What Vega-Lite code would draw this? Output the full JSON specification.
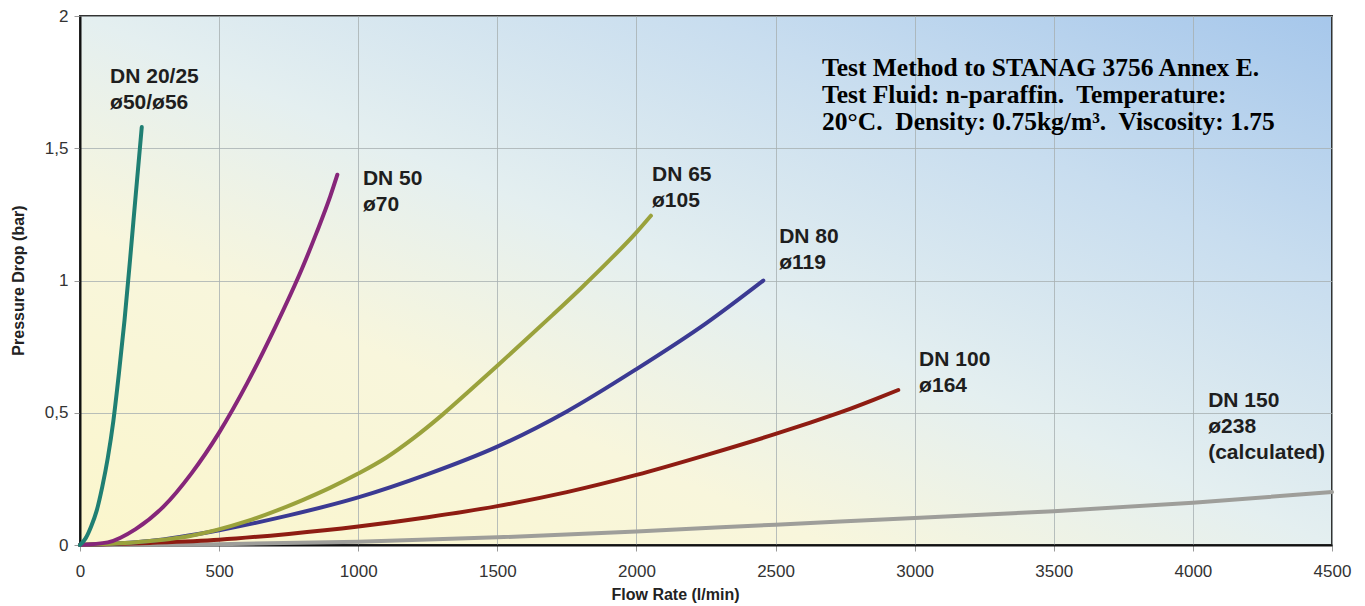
{
  "$schema": "https://vega.github.io/schema/vega-lite/v6.json",
  "width": 1252,
  "height": 529,
  "autosize": {"type": "none"},
  "padding": {"left": 80, "top": 16, "right": 33, "bottom": 61},
  "background": "white",
  "view": {
    "fill": {"gradient": "linear", "x1": 0, "y1": 1, "x2": 1, "y2": 0,
      "stops": [
        {"offset": 0, "color": "#FBF6CC"},
        {"offset": 0.3, "color": "#F8F6DC"},
        {"offset": 0.5, "color": "#E4EFF0"},
        {"offset": 0.75, "color": "#C8DDEF"},
        {"offset": 1, "color": "#A6C7EB"}
      ]},
    "stroke": "#333333",
    "strokeWidth": 2
  },
  "config": {
    "font": "Liberation Sans",
    "axis": {
      "gridColor": "#A8B0B2",
      "gridWidth": 1,
      "gridOpacity": 0.8,
      "domainColor": "#111111",
      "domainWidth": 2,
      "tickColor": "#9A9A9A",
      "tickSize": 6,
      "labelFont": "Liberation Sans",
      "labelFontSize": 17,
      "labelColor": "#333333",
      "titleFont": "Liberation Sans",
      "titleFontSize": 16,
      "titleFontWeight": "bold",
      "titleColor": "#222222"
    }
  },
  "datasets": {
    "curves": [
      {"series": "DN 150", "flow": 0, "dp": 0},
      {"series": "DN 150", "flow": 500, "dp": 0.003},
      {"series": "DN 150", "flow": 1000, "dp": 0.012},
      {"series": "DN 150", "flow": 1500, "dp": 0.029},
      {"series": "DN 150", "flow": 2000, "dp": 0.051},
      {"series": "DN 150", "flow": 2500, "dp": 0.077},
      {"series": "DN 150", "flow": 3000, "dp": 0.102},
      {"series": "DN 150", "flow": 3500, "dp": 0.128},
      {"series": "DN 150", "flow": 4000, "dp": 0.16},
      {"series": "DN 150", "flow": 4500, "dp": 0.2},

      {"series": "DN 100", "flow": 0, "dp": 0},
      {"series": "DN 100", "flow": 250, "dp": 0.008},
      {"series": "DN 100", "flow": 500, "dp": 0.02},
      {"series": "DN 100", "flow": 750, "dp": 0.042},
      {"series": "DN 100", "flow": 1000, "dp": 0.07},
      {"series": "DN 100", "flow": 1250, "dp": 0.105},
      {"series": "DN 100", "flow": 1500, "dp": 0.147},
      {"series": "DN 100", "flow": 1750, "dp": 0.2},
      {"series": "DN 100", "flow": 2000, "dp": 0.265},
      {"series": "DN 100", "flow": 2250, "dp": 0.34},
      {"series": "DN 100", "flow": 2500, "dp": 0.42},
      {"series": "DN 100", "flow": 2625, "dp": 0.463},
      {"series": "DN 100", "flow": 2750, "dp": 0.508},
      {"series": "DN 100", "flow": 2850, "dp": 0.548},
      {"series": "DN 100", "flow": 2941, "dp": 0.586},

      {"series": "DN 80", "flow": 0, "dp": 0},
      {"series": "DN 80", "flow": 250, "dp": 0.015},
      {"series": "DN 80", "flow": 500, "dp": 0.056},
      {"series": "DN 80", "flow": 750, "dp": 0.112},
      {"series": "DN 80", "flow": 1000, "dp": 0.18},
      {"series": "DN 80", "flow": 1250, "dp": 0.268},
      {"series": "DN 80", "flow": 1500, "dp": 0.372},
      {"series": "DN 80", "flow": 1750, "dp": 0.505},
      {"series": "DN 80", "flow": 2000, "dp": 0.665},
      {"series": "DN 80", "flow": 2250, "dp": 0.838},
      {"series": "DN 80", "flow": 2456, "dp": 1.0},

      {"series": "DN 65", "flow": 0, "dp": 0},
      {"series": "DN 65", "flow": 200, "dp": 0.01},
      {"series": "DN 65", "flow": 400, "dp": 0.035},
      {"series": "DN 65", "flow": 600, "dp": 0.09},
      {"series": "DN 65", "flow": 800, "dp": 0.17},
      {"series": "DN 65", "flow": 900, "dp": 0.217},
      {"series": "DN 65", "flow": 1000, "dp": 0.27},
      {"series": "DN 65", "flow": 1100, "dp": 0.33},
      {"series": "DN 65", "flow": 1200, "dp": 0.405},
      {"series": "DN 65", "flow": 1300, "dp": 0.49},
      {"series": "DN 65", "flow": 1400, "dp": 0.583},
      {"series": "DN 65", "flow": 1500, "dp": 0.678},
      {"series": "DN 65", "flow": 1600, "dp": 0.774},
      {"series": "DN 65", "flow": 1700, "dp": 0.871},
      {"series": "DN 65", "flow": 1800, "dp": 0.97},
      {"series": "DN 65", "flow": 1900, "dp": 1.073},
      {"series": "DN 65", "flow": 2000, "dp": 1.182},
      {"series": "DN 65", "flow": 2052, "dp": 1.245},

      {"series": "DN 50", "flow": 0, "dp": 0},
      {"series": "DN 50", "flow": 100, "dp": 0.01},
      {"series": "DN 50", "flow": 200, "dp": 0.06},
      {"series": "DN 50", "flow": 300, "dp": 0.145},
      {"series": "DN 50", "flow": 400, "dp": 0.27},
      {"series": "DN 50", "flow": 500, "dp": 0.425},
      {"series": "DN 50", "flow": 600, "dp": 0.61},
      {"series": "DN 50", "flow": 700, "dp": 0.82},
      {"series": "DN 50", "flow": 800, "dp": 1.05},
      {"series": "DN 50", "flow": 850, "dp": 1.18},
      {"series": "DN 50", "flow": 900, "dp": 1.32},
      {"series": "DN 50", "flow": 925, "dp": 1.4},

      {"series": "DN 20/25", "flow": 0, "dp": 0},
      {"series": "DN 20/25", "flow": 20, "dp": 0.025},
      {"series": "DN 20/25", "flow": 40, "dp": 0.07},
      {"series": "DN 20/25", "flow": 60, "dp": 0.13},
      {"series": "DN 20/25", "flow": 80, "dp": 0.22},
      {"series": "DN 20/25", "flow": 100, "dp": 0.33},
      {"series": "DN 20/25", "flow": 120, "dp": 0.47},
      {"series": "DN 20/25", "flow": 140, "dp": 0.65},
      {"series": "DN 20/25", "flow": 160, "dp": 0.85},
      {"series": "DN 20/25", "flow": 180, "dp": 1.08},
      {"series": "DN 20/25", "flow": 200, "dp": 1.32},
      {"series": "DN 20/25", "flow": 222, "dp": 1.58}
    ],
    "labels": [
      {"label": "DN 20/25\nø50/ø56", "flow": 108, "dp": 1.81},
      {"label": "DN 50\nø70", "flow": 1017, "dp": 1.425},
      {"label": "DN 65\nø105", "flow": 2056, "dp": 1.44},
      {"label": "DN 80\nø119", "flow": 2513, "dp": 1.206},
      {"label": "DN 100\nø164", "flow": 3016, "dp": 0.741},
      {"label": "DN 150\nø238\n(calculated)", "flow": 4055, "dp": 0.586}
    ],
    "note": [
      {"text": "Test Method to STANAG 3756 Annex E.\nTest Fluid: n-paraffin.\u00a0 Temperature:\n20°C.\u00a0 Density: 0.75kg/m³.\u00a0 Viscosity: 1.75", "flow": 2667, "dp": 1.85}
    ]
  },
  "layer": [
    {
      "data": {"name": "curves"},
      "mark": {"type": "line", "strokeWidth": 4, "interpolate": "monotone", "strokeCap": "round"},
      "encoding": {
        "x": {"field": "flow", "type": "quantitative",
          "scale": {"domain": [0, 4500], "nice": false},
          "axis": {"values": [0, 500, 1000, 1500, 2000, 2500, 3000, 3500, 4000, 4500],
            "format": "d",
            "title": "Flow Rate (l/min)", "labelPadding": 12, "labelFlush": false,
            "titleX": 595, "titleY": 41, "titleAlign": "center", "titleBaseline": "top"}},
        "y": {"field": "dp", "type": "quantitative",
          "scale": {"domain": [0, 2], "nice": false},
          "axis": {"values": [0, 0.5, 1, 1.5, 2], "title": "Pressure Drop (bar)",
            "format": "~g",
            "labelExpr": "replace(datum.label, '.', ',')", "labelPadding": 6, "labelFlush": false,
            "titleX": -62, "titleY": 264, "titleAngle": 270, "titleAlign": "center", "titleBaseline": "middle"}},
        "color": {"field": "series", "type": "nominal", "legend": null,
          "scale": {"domain": ["DN 150", "DN 100", "DN 80", "DN 65", "DN 50", "DN 20/25"],
            "range": ["#9E9E9A", "#8E1C12", "#3B3A93", "#9AA23C", "#86267A", "#1F7F73"]}},
        "order": {"field": "flow", "type": "quantitative"}
      }
    },
    {
      "data": {"name": "labels"},
      "mark": {"type": "text", "align": "left", "baseline": "top", "font": "Liberation Sans",
        "fontWeight": "bold", "fontSize": 21, "lineBreak": "\n", "lineHeight": 26, "color": "#1E1E1E"},
      "encoding": {
        "x": {"field": "flow", "type": "quantitative"},
        "y": {"field": "dp", "type": "quantitative"},
        "text": {"field": "label"}
      }
    },
    {
      "data": {"name": "note"},
      "mark": {"type": "text", "align": "left", "baseline": "top", "font": "Liberation Serif",
        "fontWeight": "bold", "fontSize": 25.5, "lineBreak": "\n", "lineHeight": 27, "color": "#000000"},
      "encoding": {
        "x": {"field": "flow", "type": "quantitative"},
        "y": {"field": "dp", "type": "quantitative"},
        "text": {"field": "text"}
      }
    }
  ]
}
